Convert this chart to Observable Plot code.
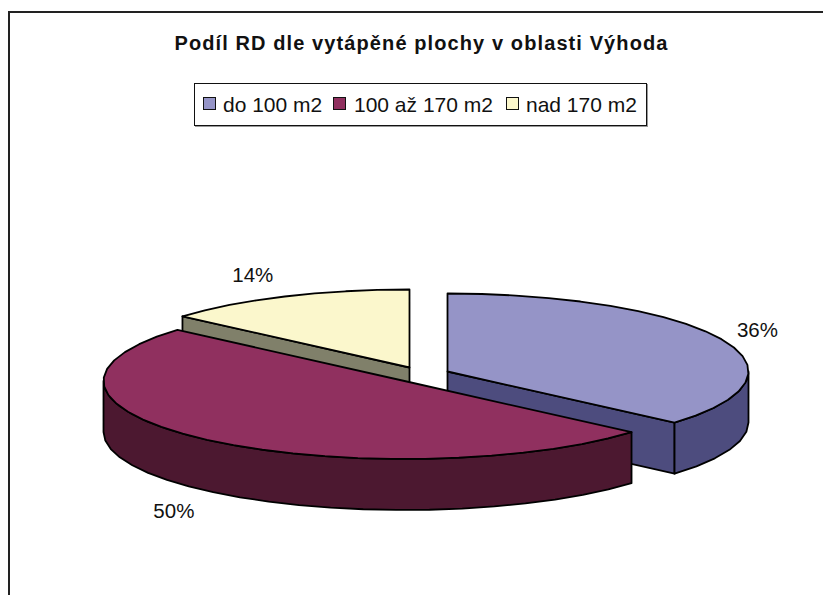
<!DOCTYPE html>
<html><head><meta charset="utf-8">
<script src="https://cdn.jsdelivr.net/npm/d3@7"></script>
<script src="https://cdn.jsdelivr.net/npm/@observablehq/plot@0.6"></script>
<style>
html,body{margin:0;padding:0;background:#fff;overflow:hidden;width:823px;height:595px;font-family:"Liberation Sans",Arial,sans-serif;color:#111}
#frame{position:absolute;left:8px;top:11px;width:830px;height:600px;border-top:2px solid #222;border-left:2px solid #222;box-sizing:border-box}
#title{position:absolute;left:0;width:843px;top:31px;text-align:center;font-weight:bold;font-size:20px;letter-spacing:1.1px;line-height:24px;white-space:nowrap}
#legend{position:absolute;left:194px;top:83px;width:453px;height:43px;border:1px solid #111;box-sizing:border-box;font-size:21px;line-height:41px;white-space:nowrap;box-shadow:1px 1px 0 #999}
.sw{position:absolute;top:13px;width:11px;height:11px;border:1px solid #111}
.lb{position:absolute;top:0}
#chart{position:absolute;left:0;top:130px}
</style></head><body>
<div id="frame"></div>
<div id="title">Podíl RD dle vytápěné plochy v oblasti Výhoda</div>
<div id="legend"></div>
<div id="chart"></div>
<script>
const categories = ["do 100 m2", "100 až 170 m2", "nad 170 m2"];
const shares = [36.4, 50.0, 13.6];
const topColors = ["#9594c7", "#90305f", "#fbf7cc"];
const wallColors = ["#4d4c7e", "#4c1830", "#80806a"];
const centerX = [447, 404, 409];
const centerY = [371, 380.5, 367];
const labelDx = [36, -33, -32];
const labelDy = [-9, 21, -21];
const legendSwatchX = [8, 138, 311];
const legendTextX = [28, 159, 331];

const rx = 301, ry = 78, depth = 51;
const total = d3.sum(shares);
let acc = 0;
const slices = categories.map((name, i) => {
  const start = acc / total * 2 * Math.PI;
  acc += shares[i];
  return {name, i, start, end: acc / total * 2 * Math.PI, cx: centerX[i], cy: centerY[i]};
});
const rim = (s, a, d = 0) => ({x: s.cx + rx * Math.sin(a), y: s.cy - ry * Math.cos(a) + d});
const apex = (s, d = 0) => ({x: s.cx, y: s.cy + d});
const arc = (s, a0, a1, d = 0) => {
  const n = Math.max(2, Math.round(Math.abs(a1 - a0) / (Math.PI / 28)));
  return d3.range(n + 1).map(k => rim(s, a0 + (a1 - a0) * k / n, d));
};
const close = p => [...p, p[0]];
const wedge = s => close([apex(s), ...arc(s, s.start, s.end)]);
const cutWall = (s, a) => close([apex(s), rim(s, a), rim(s, a, depth), apex(s, depth)]);
const outerWall = (s, a0, a1) => close([...arc(s, a0, a1), ...arc(s, a1, a0, depth)]);

const shape = (pts, fill) => Plot.line(pts, {x: "x", y: "y", fill, stroke: "#000", strokeWidth: 1.8, strokeLinejoin: "round", curve: "linear"});
const [blue, red, yellow] = slices;
const marks = [
  shape(cutWall(yellow, yellow.start), wallColors[2]),
  shape(wedge(yellow), topColors[2]),
  shape(cutWall(blue, blue.end), wallColors[0]),
  shape(outerWall(blue, Math.PI / 2, blue.end), wallColors[0]),
  shape(wedge(blue), topColors[0]),
  shape(outerWall(red, red.start, 1.5 * Math.PI), wallColors[1]),
  shape(wedge(red), topColors[1]),
  Plot.text(slices, {
    x: s => rim(s, (s.start + s.end) / 2).x + labelDx[s.i],
    y: s => rim(s, (s.start + s.end) / 2, s.i === 1 ? depth : 0).y + labelDy[s.i],
    text: s => d3.format(".0f")(shares[s.i]) + "%",
    fontSize: 20.5, fill: "#111", fontFamily: "Liberation Sans"
  })
];
document.getElementById("chart").append(Plot.plot({
  width: 823, height: 465, margin: 0,
  x: {domain: [0, 823], range: [0, 823], axis: null},
  y: {domain: [130, 595], range: [0, 465], axis: null},
  marks
}));
const legend = document.getElementById("legend");
categories.forEach((c, i) => {
  const sw = document.createElement("span");
  sw.className = "sw"; sw.style.left = legendSwatchX[i] + "px"; sw.style.background = topColors[i];
  const lb = document.createElement("span");
  lb.className = "lb"; lb.style.left = legendTextX[i] + "px"; lb.textContent = c;
  legend.append(sw, lb);
});
</script>
</body></html>
